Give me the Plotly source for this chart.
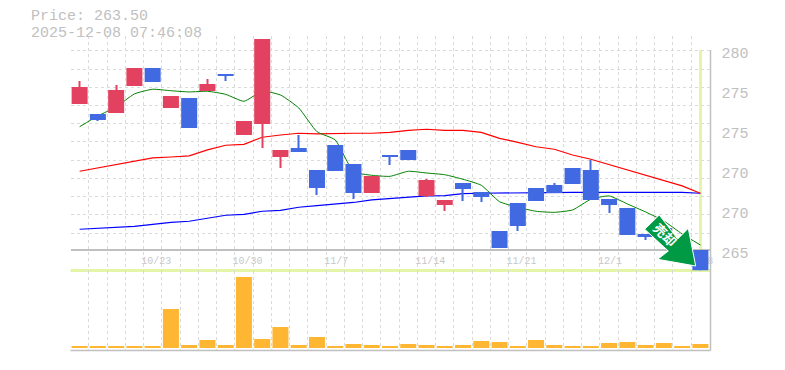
import plotly.graph_objects as go

W, H = 785, 370
idx = list(range(35))
opens = [276.18,275.43,275.5,277.53,278.88,275.88,276.63,277.15,278.43,273.85,274.68,272.2,272.88,271.23,273.1,271.68,269.5,272.35,272.73,269.28,268.6,270.25,269.58,266.65,268.75,269.88,270.1,271.38,271.23,269.05,268.38,266.43,266.88,265.98,265.23]
closes = [277.45,274.98,277.23,278.88,277.83,276.78,274.38,277.68,278.28,274.9,281.05,272.73,272.58,269.88,271.15,269.5,270.78,272.2,271.98,270.48,268.98,269.8,269.2,265.38,267.03,268.9,269.5,270.18,268.98,268.6,266.35,266.2,266.13,264.63,263.7]
highs = [277.9,275.43,277.6,278.88,278.88,276.78,276.63,278.05,278.43,274.9,281.05,272.73,273.85,271.23,273.1,271.68,270.78,272.35,272.73,270.55,268.98,270.25,269.58,266.65,268.75,269.88,270.25,271.38,271.98,269.05,268.38,266.43,266.88,265.98,265.23]
lows = [276.18,274.9,275.5,277.53,277.83,275.88,274.38,277.15,277.9,273.85,272.88,271.38,272.58,269.35,271.15,269.05,269.5,271.6,271.98,269.2,268.15,268.9,268.83,265.38,266.65,268.9,269.5,270.18,268.98,268.0,266.35,265.98,266.13,264.63,263.7]
ma_short = [274.47,275.28,275.95,276.93,277.28,277.17,277.08,277.13,276.9,276.38,277.13,276.85,275.88,274.1,273.48,271.1,270.83,270.75,271.13,271.0,270.87,270.53,270.08,268.85,268.43,268.13,268.05,268.23,269.03,269.28,268.68,268.08,267.4,266.43,265.6]
ma_mid = [271.13,271.38,271.6,271.9,272.13,272.2,272.28,272.73,273.08,273.15,273.68,273.85,273.98,273.93,273.98,273.98,273.98,274.05,274.2,274.28,274.2,274.2,274.05,273.6,273.3,272.97,272.78,272.35,272.03,271.62,271.23,270.85,270.42,270.03,269.48]
ma_long = [266.78,266.85,266.93,267.0,267.15,267.3,267.38,267.6,267.83,267.9,268.13,268.2,268.43,268.55,268.68,268.79,268.98,269.09,269.2,269.28,269.31,269.46,269.48,269.5,269.54,269.55,269.55,269.55,269.55,269.55,269.55,269.55,269.55,269.55,269.48]
volumes = [2,2,2,2,2,39,3,8,3,71,9,21,3,11,2,4,3,2,4,3,2,3,7,6,2,8,3,2,2,5,6,3,5,2,4]
date_idx = [4,9,14,19,24,29,34]
date_labels = ["10/23","10/30","11/7","11/14","11/21","12/1","12/8"]
price_ticks = [280,277,274,271,268,265]
price_labels = ["280","275","275","270","270","265"]
price_grid = [280.17,278.8,277.43,276.07,274.7,273.33,271.96,270.59,269.23,267.86,266.49]
title_lines = ["Price: 263.50","2025-12-08 07:46:08"]
signal_label = "売却"

RED, BLUE, ORANGE = "#E2425F", "#4169E1", "#FFB733"
GRID, AXIS, TXT, LIME = "#DADADA", "#C0C0C0", "#C0C0C0", "#E5F5A8"
MONO = "Liberation Mono"

def fx(px): return px / W
def fy(py): return 1 - py / H

L, R = 70.5, 709.5
cell_edges = [i - 0.5 for i in range(36)]
PRICE_RANGE = [263.65, 281.275]
fig = go.Figure()

# moving averages sit on the base subplot, below the candles
for vals, col, wd, shape in [(ma_long, "#0000FF", 1.2, "linear"), (ma_mid, "#FF0000", 1.2, "linear"), (ma_short, "#008000", 1, "spline")]:
    fig.add_trace(go.Scatter(x=idx, y=vals, mode="lines", line=dict(color=col, width=wd, shape=shape, smoothing=0.5),
                             xaxis="x", yaxis="y", hoverinfo="skip"))

up = [i for i in idx if closes[i] >= opens[i]]
down = [i for i in idx if closes[i] < opens[i]]
for group, col in [(up, RED), (down, BLUE)]:
    fig.add_trace(go.Bar(x=group, base=[lows[i] for i in group], y=[highs[i] - lows[i] for i in group], width=0.06,
                         marker=dict(color=col, line=dict(width=0)), xaxis="x", yaxis="y3"))
    fig.add_trace(go.Bar(x=group, base=[min(opens[i], closes[i]) for i in group], y=[abs(closes[i] - opens[i]) for i in group],
                         width=0.877, marker=dict(color=col, line=dict(width=0)), xaxis="x", yaxis="y3"))

fig.add_trace(go.Bar(x=idx, y=volumes, width=0.877, marker=dict(color=ORANGE, line=dict(width=0)), xaxis="x2", yaxis="y2"))

DASH = "3px,3px"
minor_x = dict(tickmode="array", tickvals=cell_edges, showgrid=True, gridcolor=GRID, griddash=DASH, gridwidth=1, ticks="")
label_pos = [d + (0.2 if len(t) == 5 else 0.05) for d, t in zip(date_idx, date_labels)]

shapes = [
    # hides the grid above the chart's top edge, while the tallest candle still shows there
    dict(type="rect", xref="paper", yref="paper", x0=fx(L - 2), x1=fx(R + 2), y0=fy(35), y1=fy(50), fillcolor="white", line=dict(width=0), layer="between"),
    dict(type="line", xref="paper", yref="paper", x0=fx(L), x1=fx(710.5), y0=fy(270.5), y1=fy(270.5), line=dict(color=LIME, width=3), layer="between"),
    dict(type="line", xref="paper", yref="paper", x0=fx(700.5), x1=fx(700.5), y0=fy(50), y1=fy(270.5), line=dict(color=LIME, width=3), layer="between"),
    dict(type="line", xref="paper", yref="paper", x0=fx(710.5), x1=fx(710.5), y0=fy(50), y1=fy(350.5), line=dict(color=AXIS, width=1.5), layer="below"),
    dict(type="line", xref="paper", yref="paper", x0=fx(L), x1=fx(710.5), y0=fy(350.5), y1=fy(350.5), line=dict(color=AXIS, width=1.5), layer="below"),
]
arrow = [(659.3,215),(644.7,229.3),(668.3,251),(657.7,259.3),(695.7,266),(688.3,228.3),(677.7,239)]
path = "M " + " L ".join(f"{fx(x):.5f},{fy(y):.5f}" for x, y in arrow) + " Z"
shapes.append(dict(type="path", xref="paper", yref="paper", path=path, fillcolor="#009944", line=dict(color="#FFFFFF", width=1), layer="above"))
shapes.append(dict(type="rect", xref="paper", yref="paper", x0=fx(650), x1=fx(678), y0=fy(222), y1=fy(250), line=dict(width=0),
                   fillcolor="rgba(0,0,0,0)", layer="above",
                   label=dict(text=signal_label, textangle=45, textposition="middle center",
                              font=dict(family="Noto Sans CJK JP", size=13, color="#FFFFFF", weight="bold"))))

annotations = [
    dict(xref="paper", yref="paper", x=fx(28.5), y=fy(py), text=line, showarrow=False, xanchor="left", yanchor="middle",
         font=dict(family=MONO, size=15, color=TXT))
    for line, py in zip(title_lines, [16, 33.5])
]

fig.update_layout(
    width=W, height=H, margin=dict(l=0, r=0, t=0, b=0), autosize=False, showlegend=False,
    paper_bgcolor="white", plot_bgcolor="rgba(0,0,0,0)", barmode="overlay", shapes=shapes, annotations=annotations,
    xaxis=dict(domain=[fx(L), fx(R)], range=[-0.5, 34.5], anchor="free", position=fy(250), side="bottom", tickmode="array", automargin=False,
               tickvals=label_pos, ticktext=date_labels, showgrid=False, zeroline=False, showline=True, linecolor=AXIS, linewidth=1.5,
               ticks="outside", ticklen=1, tickcolor="rgba(0,0,0,0)", layer="below traces",
               tickfont=dict(family=MONO, size=10, color="#C8C8C8"), minor=minor_x),
    yaxis=dict(domain=[fy(271), fy(36)], range=PRICE_RANGE, side="right", anchor="x", tickmode="array", tickvals=price_ticks, ticktext=price_labels,
               automargin=False, showgrid=False, zeroline=False, showline=False, ticks="outside", ticklen=8, tickcolor="rgba(0,0,0,0)",
               tickfont=dict(family=MONO, size=15, color=TXT),
               minor=dict(tickmode="array", tickvals=price_grid, showgrid=True, gridcolor=GRID, griddash=DASH, gridwidth=1, ticks="")),
    yaxis3=dict(overlaying="y", range=PRICE_RANGE, visible=False, anchor="x", automargin=False),
    xaxis2=dict(domain=[fx(L), fx(R)], range=[-0.5, 34.5], anchor="y2", showticklabels=False, showgrid=False, zeroline=False,
                automargin=False, showline=False, ticks="", minor=minor_x),
    yaxis2=dict(domain=[fy(350), fy(271)], range=[-2, 77], anchor="x2", visible=False, automargin=False),
)
fig.write_html("out.html", config={"displayModeBar": False}, post_script="document.body.style.margin='0';document.body.style.padding='0';")
